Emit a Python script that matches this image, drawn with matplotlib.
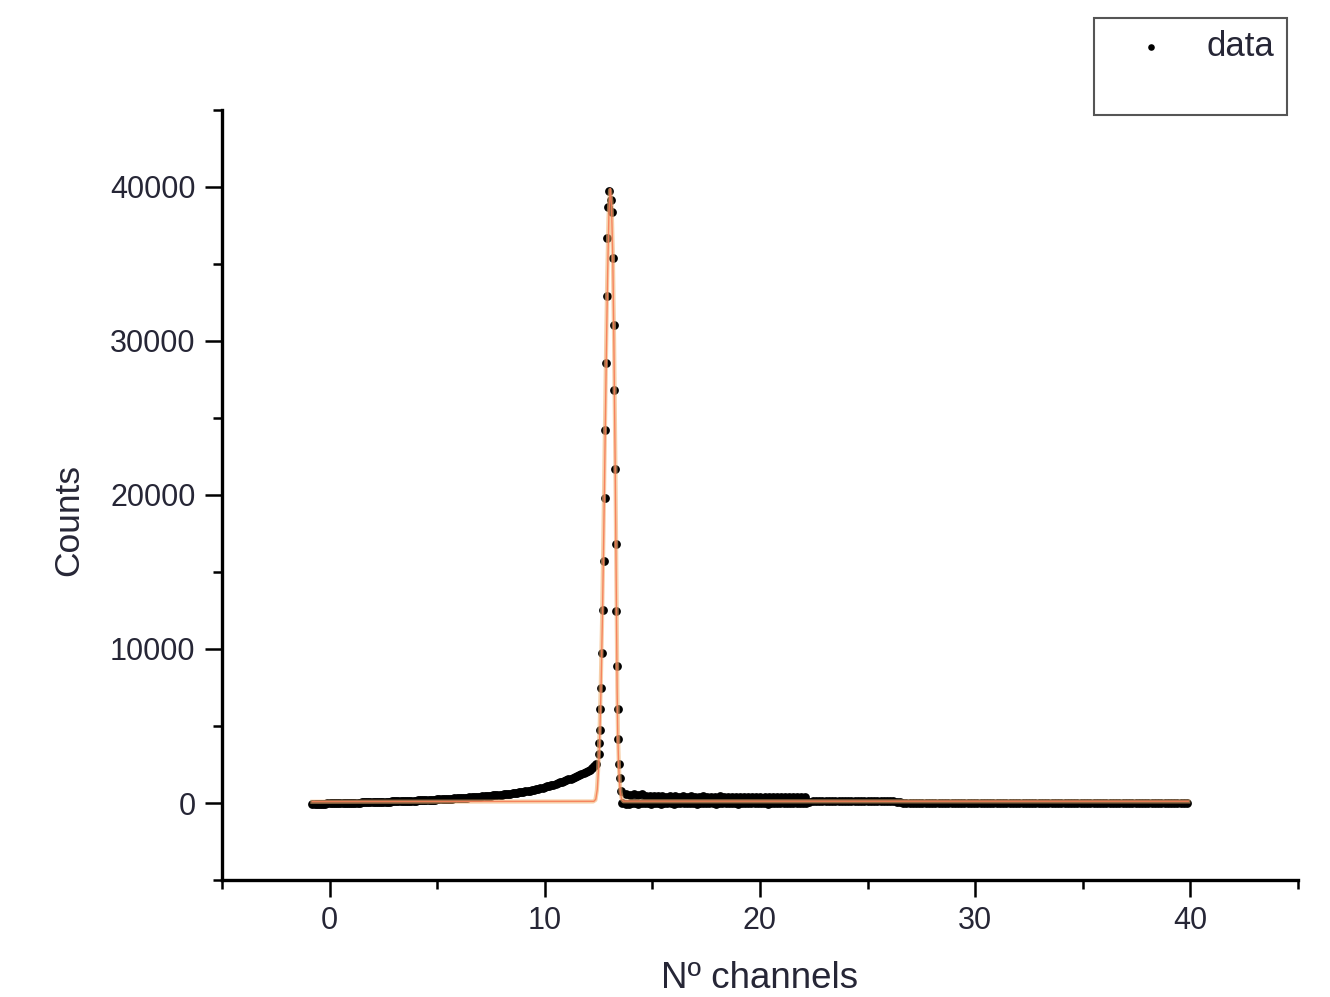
import numpy as np
import matplotlib
matplotlib.use('Agg')
import matplotlib.pyplot as plt
from matplotlib.ticker import MultipleLocator

plt.rcParams['font.family'] = ['Liberation Sans', 'DejaVu Sans']

# left tail: channels -0.8 .. 12.4, step 0.1
left_x0, left_dx = -0.8, 0.1
left_y = [-60, -55, -52, -48, -45, -40, -35, -30, -25,
          -22, -18, -14, -10, -6, -2, 2, 6, 10, 14,
          18, 22, 26, 30, 34, 38, 42, 46, 50, 55,
          60, 64, 69, 74, 79, 84, 89, 95, 100, 105,
          110, 115, 120, 126, 132, 138, 144, 150, 156, 162,
          168, 174, 180, 187, 194, 201, 208, 215, 222, 230,
          238, 246, 254, 262, 270, 278, 286, 294, 302, 312,
          322, 332, 342, 352, 362, 372, 382, 394, 406, 418,
          430, 442, 454, 466, 478, 492, 506, 520, 534, 548,
          570, 585, 600, 615, 630, 648, 666, 686, 710, 735,
          760, 785, 810, 838, 866, 896, 928, 962, 1000, 1040,
          1080, 1120, 1160, 1200, 1244, 1288, 1334, 1382, 1432, 1484,
          1536, 1590, 1646, 1704, 1762, 1822, 1884, 1948, 2014, 2080,
          2160, 2260, 2380, 2560]

# peak points
peak_x = [12.50, 12.54, 12.56, 12.58, 12.60, 12.64, 12.70, 12.75, 12.79, 12.82,
          12.86, 12.88, 12.91, 12.95, 12.99,
          13.08, 13.12, 13.17, 13.21, 13.23, 13.27, 13.30, 13.33, 13.36, 13.38,
          13.41, 13.44, 13.48, 13.52]
peak_y = [3170, 3920, 4730, 6090, 7500, 9770, 12530, 15730, 19800, 24230,
          28560, 32910, 36660, 38700, 39720,
          39130, 38350, 35380, 31070, 26830, 21690, 16820, 12480, 8900, 6130,
          4140, 2520, 1650, 780]

# right tail: channels 13.6 .. 39.85, step 0.15
right_x0, right_dx = 13.6, 0.15
right_y = [-20, -35, -40, -30, -25, -35, -30, -20, -30, -35,
           -25, -30, -35, -30, -20, -25, -35, -30, -25, -30,
           -30, -20, -25, -35, -30, -30, -25, -20, -30, -35,
           -30, -25, -20, -30, -30, -25, -35, -30, -20, -25,
           -30, -30, -25, -20, -30, -35, -25, -20, -30, -25,
           -20, -25, -30, -20, -15, -10, 0, 20,
           90, 110, 120, 115, 110, 125, 120, 110, 115, 120,
           125, 115, 110, 120, 115, 110, 120, 125, 115, 110,
           120, 115, 110, 120, 115, 110, 100, 80, 40,
           10, 15, 5, 10, 15, 10, 5, 10, 15, 10,
           5, 10, 15, 10, 5, 10, 10, 15, 5, 10,
           15, 10, 5, 10, 15, 10, 5, 10, 10, 15,
           5, 10, 15, 10, 5, 10, 15, 10, 5, 10,
           10, 15, 5, 10, 15, 10, 5, 10, 15, 10,
           5, 10, 10, 15, 5, 10, 15, 10, 5, 10,
           15, 10, 5, 10, 10, 15, 5, 10, 15, 10,
           5, 10, 15, 10, 5, 10, 10, 15, 5, 10,
           15, 10, 5, 10, 15, 10, 5, 10, 10]

# upper row of points after the peak: 13.75 .. 22.11, step 0.19
upper_x0, upper_dx = 13.75, 0.19
upper_y = [560, 540, 580, 520, 560, 470, 450, 430, 460, 440,
           420, 450, 430, 410, 440, 420, 430, 410, 420, 440,
           410, 420, 400, 430, 410, 420, 400, 410, 420, 400,
           410, 400, 420, 390, 400, 410, 390, 400, 380, 390,
           400, 380, 370, 380, 360]

# fit curves
orange_x = [-0.8, 12.25, 12.35, 12.42, 12.48, 12.54, 12.60, 12.66, 12.72, 12.78,
            12.84, 12.90, 12.96, 13.03, 13.10, 13.16, 13.22, 13.28, 13.34, 13.37,
            13.40, 13.44, 13.48, 13.52, 13.58, 13.66, 39.9]
orange_y = [80, 100, 200, 800, 2200, 4400, 7600, 11800, 17000, 22800,
            28700, 34000, 38000, 39800, 39000, 35800, 30000, 22000, 12500, 7500,
            4500, 2500, 1400, 700, 250, 110, 100]
red_x = [-0.8, 12.28, 12.37, 12.44, 12.50, 12.56, 12.62, 12.68, 12.74, 12.80,
         12.86, 12.92, 12.98, 13.04, 13.10, 13.16, 13.21, 13.27, 13.33, 13.36,
         13.39, 13.43, 13.47, 13.51, 13.57, 13.65, 39.9]
red_y = [90, 110, 250, 900, 2300, 4600, 7900, 12200, 17500, 23300,
         29200, 34400, 38300, 39900, 38800, 35400, 30000, 22000, 12500, 7500,
         4500, 2500, 1400, 700, 250, 120, 110]

lx = left_x0 + left_dx * np.arange(len(left_y))
rx = right_x0 + right_dx * np.arange(len(right_y))
ux = upper_x0 + upper_dx * np.arange(len(upper_y))
data_x = np.concatenate([lx, peak_x, rx, ux])
data_y = np.concatenate([left_y, peak_y, right_y, upper_y])

txt = '#262636'

fig = plt.figure(figsize=(13.3, 9.97), dpi=100)
ax = fig.add_axes([222 / 1330, 117 / 997, 1076 / 1330, 770 / 997])

pts = ax.scatter(data_x, data_y, s=40, c='black', lw=0, zorder=2, label='data')
ax.plot(red_x, red_y, color='#ff3030', lw=1.0, alpha=0.9, zorder=3)
ax.plot(orange_x, orange_y, color='#f0b070', lw=3, alpha=0.6, zorder=4)

ax.set_xlim(-5, 45)
ax.set_ylim(-5000, 45000)
ax.xaxis.set_major_locator(MultipleLocator(10))
ax.xaxis.set_minor_locator(MultipleLocator(5))
ax.yaxis.set_major_locator(MultipleLocator(10000))
ax.yaxis.set_minor_locator(MultipleLocator(5000))

for s in ['top', 'right']:
    ax.spines[s].set_visible(False)
for s in ['left', 'bottom']:
    ax.spines[s].set_linewidth(2.4)
ax.tick_params(which='major', direction='out', length=12, width=1.8,
               labelsize=22, labelcolor=txt, pad=7)
ax.tick_params(which='minor', direction='out', length=6.5, width=1.8)

ax.set_xlabel('Nº channels', fontsize=26.5, color=txt)
ax.set_ylabel('Counts', fontsize=25.5, color=txt)
ax.xaxis.set_label_coords(0.5, -0.105)
ax.yaxis.set_label_coords(-0.127, 0.4675)

blank, = ax.plot([], [], ' ', label=' ')
leg = fig.legend(handles=[pts, blank], loc='upper left',
                 bbox_to_anchor=(1094 / 1330, 1 - 18 / 997),
                 fontsize=25, fancybox=False, framealpha=1, edgecolor='#555555',
                 scatterpoints=1, markerscale=0.75, handlelength=2.6,
                 handletextpad=0.3, borderpad=0.35, labelspacing=0.2,
                 borderaxespad=0)
leg.get_frame().set_linewidth(1.5)
for t in leg.get_texts():
    t.set_color(txt)

fig.savefig('out.png', dpi=100)
